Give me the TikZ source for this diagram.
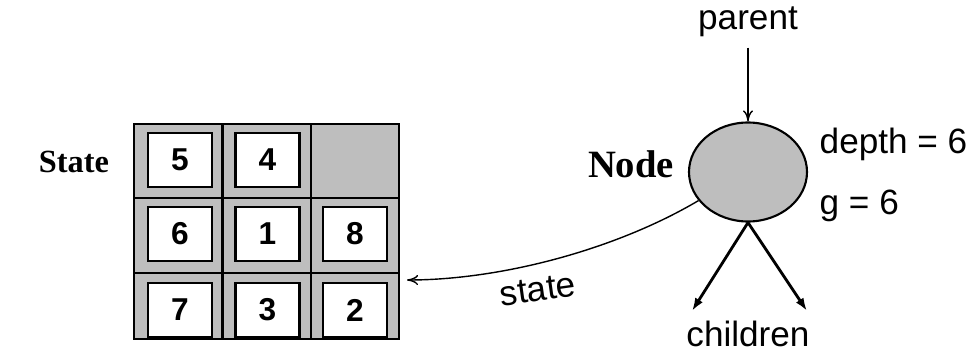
\documentclass[tikz,border=0pt]{standalone}
\usepackage{fontspec}
\setmainfont{Liberation Serif}
\setsansfont{Liberation Sans}
\usetikzlibrary{arrows.meta,shapes.geometric}
\definecolor{tilegray}{RGB}{190,190,190}
\tikzset{
    gridline/.style = {line width=0.6pt},
    tile/.style     = {draw, fill=white, line width=0.6pt, minimum width=6.4mm,
                       minimum height=5.4mm, inner sep=0pt,
                       font=\sffamily\bfseries\fontsize{9}{10}\selectfont},
    txt/.style      = {inner sep=0pt, font=\sffamily\fontsize{10}{12}\selectfont},
    bold/.style     = {inner sep=0pt, font=\rmfamily\bfseries},
    thin/.style     = {-{To[length=1.1mm,width=1mm]}, line width=0.4pt},
    kid/.style      = {-{Latex[length=1.3mm,width=0.9mm]}, line width=0.8pt}
}

\begin{document}
\begin{tikzpicture}[x=0.1mm, y=-0.1mm]

    \useasboundingbox (0,0) rectangle (972,349);

    % ---------- puzzle board ----------
    \fill[tilegray] (134,124) rectangle (399,339);
    \draw[gridline] (134,124) rectangle (399,339);
    \draw[gridline] (222.5,124) -- (222.5,339);
    \draw[gridline] (311,124) -- (311,339);
    \draw[gridline] (134,198) -- (399,198);
    \draw[gridline] (134,273) -- (399,273);

    \foreach \lbl/\cx/\cy [count=\i] in
        {5/180/160, 4/267.5/160, 6/180/234, 1/267.5/234, 8/355/234,
         7/180/310, 3/267.5/310, 2/355/310}
        \node[tile] (tile\i) at (\cx,\cy) {\lbl};

    \node[bold, font=\rmfamily\bfseries\fontsize{9.2}{11}\selectfont] (statelbl) at (74,162) {State};

    % =================================================
    % search node and its links
    % =================================================
    \node[ellipse, draw, fill=tilegray, line width=0.6pt, inner sep=0pt,
          minimum width=11.8mm, minimum height=9.9mm] (node) at (748,172) {};
    \node[bold, font=\rmfamily\bfseries\fontsize{11}{13}\selectfont] (nodelbl) at (631,164) {Node};

    \node[txt] (parent) at (748,22) {parent};
    \draw[thin, shorten <=1mm] (parent.south) -- (node.north);

    \node[txt, anchor=west] (depth) at (819,144) {depth = 6};
    \node[txt, anchor=west] (gval)  at (819,206) {g = 6};

    % children
    \coordinate (kidL) at (692,311);
    \coordinate (kidR) at (807,311);
    \draw[kid] (node.south) -- (kidL);
    \draw[kid] (node.south) -- (kidR);
    \node[txt] (children) at (748,334) {children};

    % pointer back to the state
    \coordinate (statetip) at (407,280);
    \draw[thin] (node.210) .. controls (615,250) and (500,280) .. (statetip);
    \node[txt, rotate=8] (statetxt) at (538,290) {state};

\end{tikzpicture}
\end{document}
